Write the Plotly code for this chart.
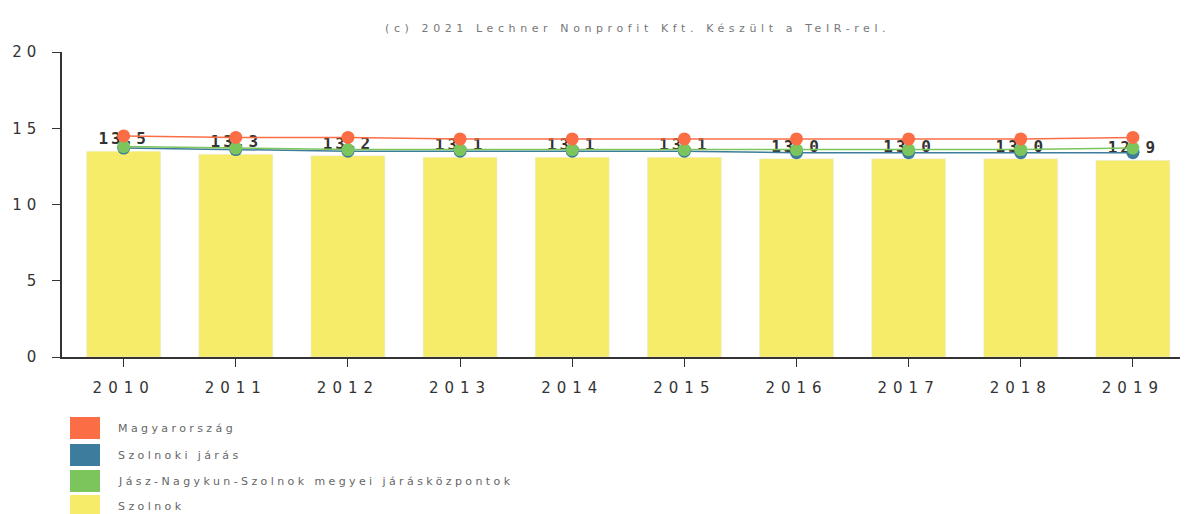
import plotly.graph_objects as go

years = ["2010", "2011", "2012", "2013", "2014", "2015", "2016", "2017", "2018", "2019"]
szolnok = [13.5, 13.3, 13.2, 13.1, 13.1, 13.1, 13.0, 13.0, 13.0, 12.9]
magyarorszag = [14.5, 14.4, 14.4, 14.3, 14.3, 14.3, 14.3, 14.3, 14.3, 14.4]
szolnoki_jaras = [13.7, 13.6, 13.5, 13.5, 13.5, 13.5, 13.4, 13.4, 13.4, 13.4]
jnsz_jaraskozpontok = [13.8, 13.7, 13.6, 13.6, 13.6, 13.6, 13.6, 13.6, 13.6, 13.7]

names = ["Magyarország", "Szolnoki járás", "Jász-Nagykun-Szolnok megyei járásközpontok", "Szolnok"]
colors = ["#FB6E45", "#3D7C9C", "#7CC45C", "#F7EC6A"]
y_ticks = [0, 5, 10, 15, 20]
title_text = "(c) 2021 Lechner Nonprofit Kft. Készült a TeIR-rel."

# page body offset (browser default margin)
OFF = 8
W, H = 1198, 514
# target plot area in screen pixels: x 62..1180, y 52..357
ML, MT = 62 - OFF, 52 - OFF
MR = W - (1180 - OFF)
MB = H - (357 - OFF)
PW, PH = W - ML - MR, H - MT - MB


def sp(t, ls):
    return f'<span style="letter-spacing:{ls}px">{t}</span>'


def px_x(p):
    return (p - OFF - ML) / PW


def px_y(p):
    return (H - MB - (p - OFF)) / PH


fig = go.Figure()
fig.add_trace(go.Bar(
    x=years, y=szolnok, name=names[3], marker_color=colors[3],
    texttemplate='<span style="letter-spacing:3px">%{y:.1f}</span>',
    textposition="outside", cliponaxis=False,
    textfont=dict(family="DejaVu Sans Mono", size=16, color="#333333", weight="bold"),
    showlegend=False,
))
line_series = [(szolnoki_jaras, names[1], colors[1]),
               (jnsz_jaraskozpontok, names[2], colors[2]),
               (magyarorszag, names[0], colors[0])]
for vals, nm, col in line_series:
    fig.add_trace(go.Scatter(
        x=years, y=vals, name=nm, mode="lines+markers",
        line=dict(color=col, width=1.5),
        marker=dict(color=col, size=13),
        cliponaxis=False, showlegend=False,
    ))

shapes = []
annotations = []
row_centers = [428, 455, 481, 506]
for nm, col, cy in zip(names, colors, row_centers):
    shapes.append(dict(type="rect", xref="paper", yref="paper",
                       x0=px_x(70), x1=px_x(100), y0=px_y(cy + 11), y1=px_y(cy - 11),
                       fillcolor=col, line=dict(width=0)))
    annotations.append(dict(xref="paper", yref="paper", x=px_x(116), y=px_y(cy),
                            xanchor="left", yanchor="middle", showarrow=False,
                            text=sp(nm, 3.4),
                            font=dict(family="DejaVu Sans", size=11, color="#666666")))

annotations.append(dict(xref="paper", yref="paper", x=px_x(637), y=px_y(28),
                        xanchor="center", yanchor="middle", showarrow=False,
                        text=sp(title_text, 4.6),
                        font=dict(family="DejaVu Sans", size=11, color="#777777")))

fig.update_layout(
    width=W, height=H,
    margin=dict(l=ML, r=MR, t=MT, b=MB),
    paper_bgcolor="white", plot_bgcolor="white",
    bargap=0.34,
    shapes=shapes, annotations=annotations,
    xaxis=dict(type="category", range=[-0.55, 9.42], showline=True, linecolor="#333333",
               linewidth=1.5, ticks="outside", ticklen=8, tickcolor="#333333",
               tickvals=years, ticktext=[sp(y, 6) for y in years],
               tickfont=dict(family="DejaVu Sans", size=15, color="#333333"),
               ticklabelstandoff=8, showgrid=False, automargin=False),
    yaxis=dict(range=[0, 20], tickvals=y_ticks, ticktext=[sp(str(v), 5) for v in y_ticks],
               showline=True, linecolor="#333333", linewidth=1.5, ticks="outside",
               ticklen=8, tickcolor="#333333", showgrid=False, zeroline=False,
               tickfont=dict(family="DejaVu Sans", size=15, color="#333333"),
               ticklabelstandoff=8, automargin=False),
)

fig.write_html("out.html")
